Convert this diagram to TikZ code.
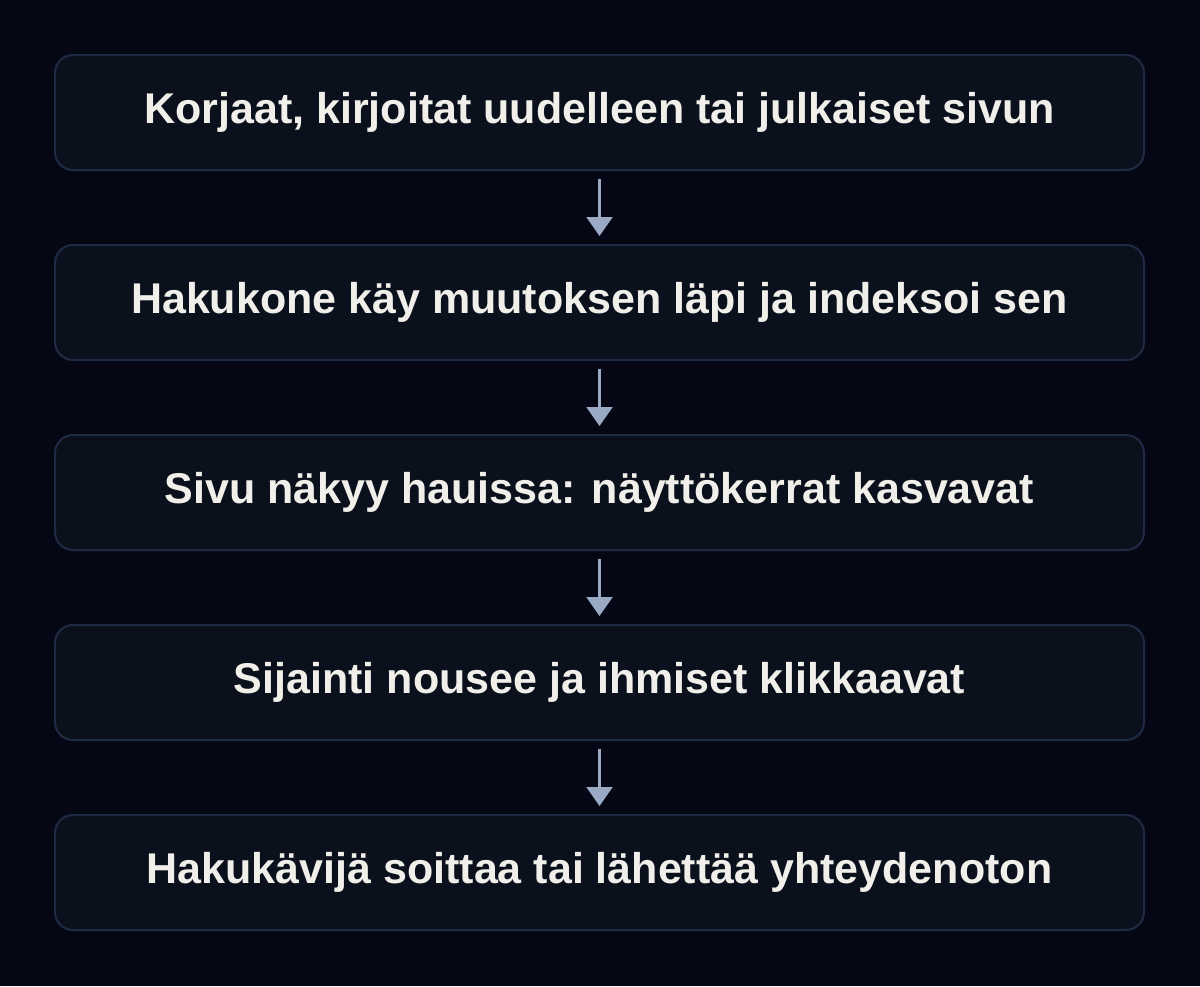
\documentclass[tikz,border=0pt]{standalone}
\usepackage{fontspec}
\setmainfont{Liberation Sans}
\usetikzlibrary{arrows.meta}
\definecolor{bg}{HTML}{050814}
\definecolor{boxfill}{HTML}{0A101C}
\definecolor{boxline}{HTML}{1F2B45}
\definecolor{txt}{HTML}{F1EFE9}
\definecolor{arr}{HTML}{9AAAC4}
\tikzset{
  stepbox/.style={draw=boxline, line width=2pt, fill=boxfill, rounded corners=18pt,
    minimum width=1089pt, minimum height=115pt, inner sep=0pt,
    text height=31pt, text depth=9pt,
    text=txt, font=\fontsize{43}{50}\selectfont\bfseries},
  flowarrow/.style={draw=arr, line width=2.2pt, -{Triangle[width=26pt,length=19pt]}}
}
\begin{document}
\begin{tikzpicture}[x=1pt,y=-1pt]
\fill[bg] (0,0) rectangle (1200,986);
\useasboundingbox (0,0) rectangle (1200,986);
\node[stepbox] (b1) at (599.5,112.5) {Korjaat, kirjoitat uudelleen tai julkaiset sivun};
\node[stepbox] (b2) at (599.5,302.5) {Hakukone käy muutoksen läpi ja indeksoi sen};
\node[stepbox] (b3) at (599.5,492.5) {Sivu näkyy hauissa: näyttökerrat kasvavat};
\node[stepbox] (b4) at (599.5,682.5) {Sijainti nousee ja ihmiset klikkaavat};
\node[stepbox] (b5) at (599.5,872.5) {Hakukävijä soittaa tai lähettää yhteydenoton};
\draw[flowarrow] ([yshift=-8pt]b1.south) -- ([yshift=8pt]b2.north);
\draw[flowarrow] ([yshift=-8pt]b2.south) -- ([yshift=8pt]b3.north);
\draw[flowarrow] ([yshift=-8pt]b3.south) -- ([yshift=8pt]b4.north);
\draw[flowarrow] ([yshift=-8pt]b4.south) -- ([yshift=8pt]b5.north);
\end{tikzpicture}
\end{document}
